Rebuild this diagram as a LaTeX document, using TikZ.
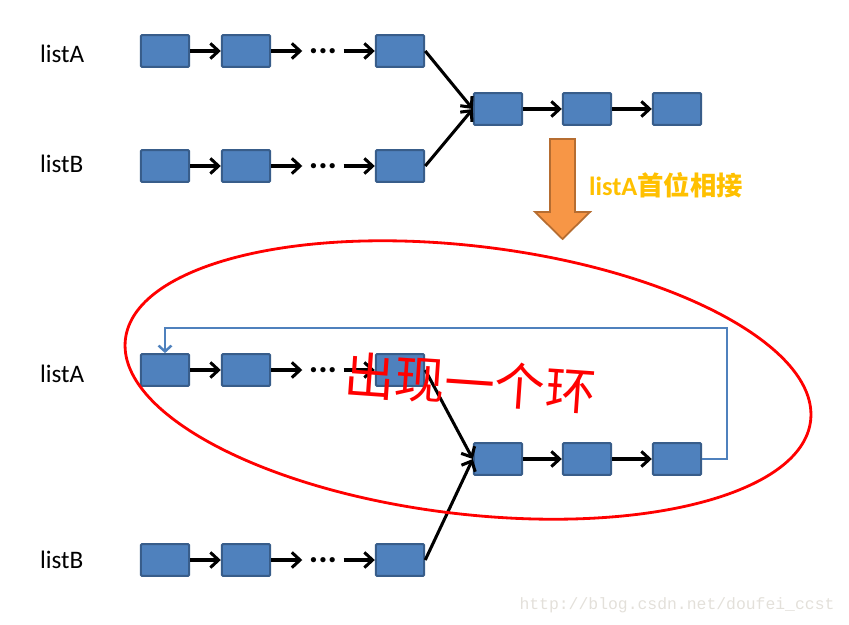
\documentclass[tikz,border=0pt]{standalone}
\usepackage{fontspec}
\setmainfont{Carlito}
\setmonofont{Liberation Mono}
\newfontfamily\cjk{Noto Sans CJK SC}
\usetikzlibrary{arrows.meta}

\definecolor{boxfill}{HTML}{4F81BD}
\definecolor{boxline}{HTML}{385D8A}
\definecolor{downfill}{HTML}{F79646}
\definecolor{downline}{HTML}{B66D31}
\definecolor{gold}{HTML}{FFC000}
\definecolor{wmgray}{HTML}{E3E0DA}

\begin{document}
\begin{tikzpicture}[x=0.03cm, y=-0.03cm,
    cell/.style={draw=boxline, fill=boxfill, line width=1.8pt, rounded corners=1pt,
      minimum width=1.45cm, minimum height=0.95cm, inner sep=0pt},
    dots/.style={minimum width=1.23cm, inner sep=0pt, font=\fontsize{30}{30}\selectfont\bfseries},
    link/.style={-{Straight Barb[length=7pt,width=13pt]}, line width=2.6pt},
    back/.style={draw=boxfill, line width=2.1pt, -{Straight Barb[length=5pt,width=11pt]}},
    lbl/.style={anchor=base west, font=\fontsize{21.5}{21.5}\selectfont}]
\useasboundingbox (0,0) rectangle (849,625);

% Before: two lists sharing a tail
\node[lbl] (LA) at (36,63) {listA};
\node[lbl] (LB) at (36,173) {listB};
\node[cell] (A1) at (165,51) {};
\node[cell] (A2) at (246,51) {};
\node[dots] (Ad) at (323,51) {...};
\node[cell] (A3) at (400,51) {};
\node[cell] (B1) at (165,166) {};
\node[cell] (B2) at (246,166) {};
\node[dots] (Bd) at (323,166) {...};
\node[cell] (B3) at (400,166) {};
\node[cell] (C1) at (498,109) {};
\node[cell] (C2) at (587,109) {};
\node[cell] (C3) at (677,109) {};
\draw[link] (A1) -- (A2);
\draw[link] (A2) -- (Ad);
\draw[link] (Ad) -- (A3);
\draw[link] (B1) -- (B2);
\draw[link] (B2) -- (Bd);
\draw[link] (Bd) -- (B3);
\draw[link] (A3.east) -- (C1.west);
\draw[link] (B3.east) -- (C1.west);
\draw[link] (C1) -- (C2);
\draw[link] (C2) -- (C3);

% Down arrow
\draw[fill=downfill, draw=downline, line width=1.5pt, line join=miter]
  (550,139) -- (575,139) -- (575,212) -- (590,212) -- (562.5,239) -- (535,212) -- (550,212) -- cycle;
\node[anchor=west, text=gold, font=\fontsize{22.5}{22.5}\selectfont\bfseries] (T) at (585,185) {listA{\cjk 首位相接}};

% After: listA head joined to the tail
\node[lbl] (LA2) at (36,382) {listA};
\node[lbl] (LB2) at (36,568) {listB};
\node[cell] (D1) at (165,370) {};
\node[cell] (D2) at (246,370) {};
\node[dots] (Dd) at (323,370) {...};
\node[cell] (D3) at (400,370) {};
\node[cell] (E1) at (165,560) {};
\node[cell] (E2) at (246,560) {};
\node[dots] (Ed) at (323,560) {...};
\node[cell] (E3) at (400,560) {};
\node[cell] (F1) at (498,459) {};
\node[cell] (F2) at (587,459) {};
\node[cell] (F3) at (677,459) {};
\draw[link] (D1) -- (D2);
\draw[link] (D2) -- (Dd);
\draw[link] (Dd) -- (D3);
\draw[link] (E1) -- (E2);
\draw[link] (E2) -- (Ed);
\draw[link] (Ed) -- (E3);
\draw[link] (D3.east) -- (F1.west);
\draw[link] (E3.east) -- (F1.west);
\draw[link] (F1) -- (F2);
\draw[link] (F2) -- (F3);
\coordinate (R) at (727,328);
\draw[back] (F3.east) -| (R) -| (D1.north);

% Ring
\draw[red, line width=2.4pt, rotate around={-6.8:(468,380)}] (468,380) ellipse [x radius=10.35cm, y radius=4.02cm];
\node[text=red, rotate=-4, font=\cjk\fontsize{43}{43}\selectfont] (Ring) at (470,383) {出现一个环};

\node[text=wmgray, font=\ttfamily\fontsize{14}{14}\selectfont] (W) at (677,605) {http://blog.csdn.net/doufei\_ccst};
\end{tikzpicture}
\end{document}
